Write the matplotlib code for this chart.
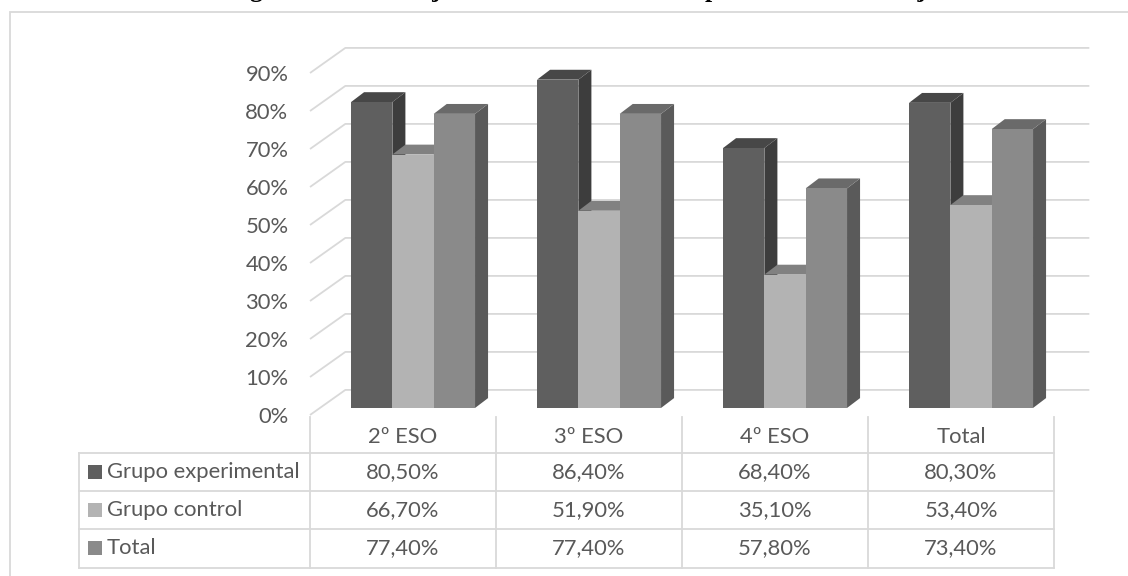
import matplotlib
matplotlib.use("Agg")
import matplotlib.pyplot as plt
from matplotlib.patches import Rectangle, Polygon
from matplotlib.ticker import FuncFormatter

# ---- data -------------------------------------------------------------
categories = ["2º ESO", "3º ESO", "4º ESO", "Total"]
series_names = ["Grupo experimental", "Grupo control", "Total"]
grupo_experimental = [80.5, 86.4, 68.4, 80.3]
grupo_control = [66.7, 51.9, 35.1, 53.4]
total = [77.4, 77.4, 57.8, 73.4]
y_ticks = [0, 10, 20, 30, 40, 50, 60, 70, 80, 90]
title = "Figura 3. Porcentaje de la muestra con comportamientos ventajosos"

series = [grupo_experimental, grupo_control, total]

# face colours per series: front, top, side
face_colors = [
    ("#5f5f5f", "#474747", "#3d3d3d"),
    ("#b3b3b3", "#818181", "#818181"),
    ("#8a8a8a", "#6a6a6a", "#5a5a5a"),
]
text_color = "#595959"
line_color = "#d9d9d9"

plt.rcParams["font.family"] = ["Lato", "DejaVu Sans"]
FS = 15.8

W, H = 1128, 576
fig = plt.figure(figsize=(W / 100, H / 100), dpi=100)

# plot area: x in category units, y in percent
ax = fig.add_axes([310 / W, (H - 415) / H, 744 / W, 380 / H])
ax.set_xlim(-0.5, 3.5)
ax.set_ylim(0, 100)
ax.patch.set_visible(False)
for s in ax.spines.values():
    s.set_visible(False)
ax.set_xticks([])
ax.set_yticks(y_ticks)
ax.yaxis.set_major_formatter(FuncFormatter(lambda v, p: f"{v:.0f}%"))
ax.tick_params(axis="y", length=0, pad=15.5, labelsize=FS, labelcolor=text_color)

# 3D perspective offsets (category units, percent units)
WALL_DX, WALL_DY = 0.19, 6.6      # back wall depth
BAR_DX, BAR_DY = 0.054, 1.85      # bar front plane
DEPTH_DX, DEPTH_DY = 0.07, 2.6    # bar thickness
GRID_END = 3.69
BAR_W = 0.2222

# gridlines: diagonal on the side wall + horizontal on the back wall
for v in y_ticks:
    ax.plot([-0.5, -0.5 + WALL_DX, GRID_END], [v, v + WALL_DY, v + WALL_DY],
            color=line_color, lw=1.3, clip_on=False, zorder=1,
            solid_capstyle="butt")

# 3D columns
for i in range(len(categories)):
    for j, vals in enumerate(series):
        front, top, side = face_colors[j]
        h = vals[i]
        x0 = i - 1.5 * BAR_W + j * BAR_W + BAR_DX
        y0 = BAR_DY
        z = 3 + i * 3 + j
        ax.add_patch(Polygon([(x0 + BAR_W, y0), (x0 + BAR_W + DEPTH_DX, y0 + DEPTH_DY),
                              (x0 + BAR_W + DEPTH_DX, y0 + h + DEPTH_DY), (x0 + BAR_W, y0 + h)],
                             closed=True, fc=side, ec="none", zorder=z, clip_on=False))
        ax.add_patch(Polygon([(x0, y0 + h), (x0 + BAR_W, y0 + h),
                              (x0 + BAR_W + DEPTH_DX, y0 + h + DEPTH_DY), (x0 + DEPTH_DX, y0 + h + DEPTH_DY)],
                             closed=True, fc=top, ec="none", zorder=z, clip_on=False))
        ax.add_patch(Rectangle((x0, y0), BAR_W, h, fc=front, ec="none",
                               zorder=z, clip_on=False))

# data table below the plot
ROW_LINES = [-10, -20, -30, -40.3]
HEADER_TOP = -0.5
TABLE_LEFT = -1.742
TABLE_RIGHT = 3.5
col_edges = [-0.5, 0.5, 1.5, 2.5, 3.5]

for y in ROW_LINES:
    ax.plot([TABLE_LEFT, TABLE_RIGHT], [y, y], color=line_color, lw=1.3,
            clip_on=False, zorder=2, solid_capstyle="projecting")
for x in col_edges:
    ax.plot([x, x], [HEADER_TOP, ROW_LINES[-1]], color=line_color, lw=1.3,
            clip_on=False, zorder=2)
ax.plot([TABLE_LEFT, TABLE_LEFT], [ROW_LINES[0], ROW_LINES[-1]], color=line_color,
        lw=1.3, clip_on=False, zorder=2)

for i, cat in enumerate(categories):
    ax.text(i, -5.7, cat, ha="center", va="center", fontsize=FS,
            color=text_color, clip_on=False)

row_centers = [-15, -25, -35]
for r, (name, vals) in enumerate(zip(series_names, series)):
    yc = row_centers[r]
    ax.add_patch(Rectangle((-1.694, yc - 1.84), 0.075, 3.68, fc=face_colors[r][0],
                           ec="none", clip_on=False, zorder=3))
    ax.text(-1.591, yc, name, ha="left", va="center", fontsize=FS,
            color=text_color, clip_on=False)
    for i, v in enumerate(vals):
        label = f"{v:.2f}%".replace(".", ",")
        ax.text(i, yc, label, ha="center", va="center", fontsize=FS,
                color=text_color, clip_on=False)

# chart frame and caption (caption sits at the top edge of the page)
fig.patches.append(Rectangle((10 / W, -0.05), 1.2, (H - 12) / H + 0.05,
                             transform=fig.transFigure, fill=False,
                             ec=line_color, lw=1.3))
fig.text(599 / W, 1 + 3 / H, title, ha="center", va="baseline", fontsize=18.5,
         fontweight="bold", family="Liberation Serif", color="black")

fig.savefig("out.png", dpi=100)
